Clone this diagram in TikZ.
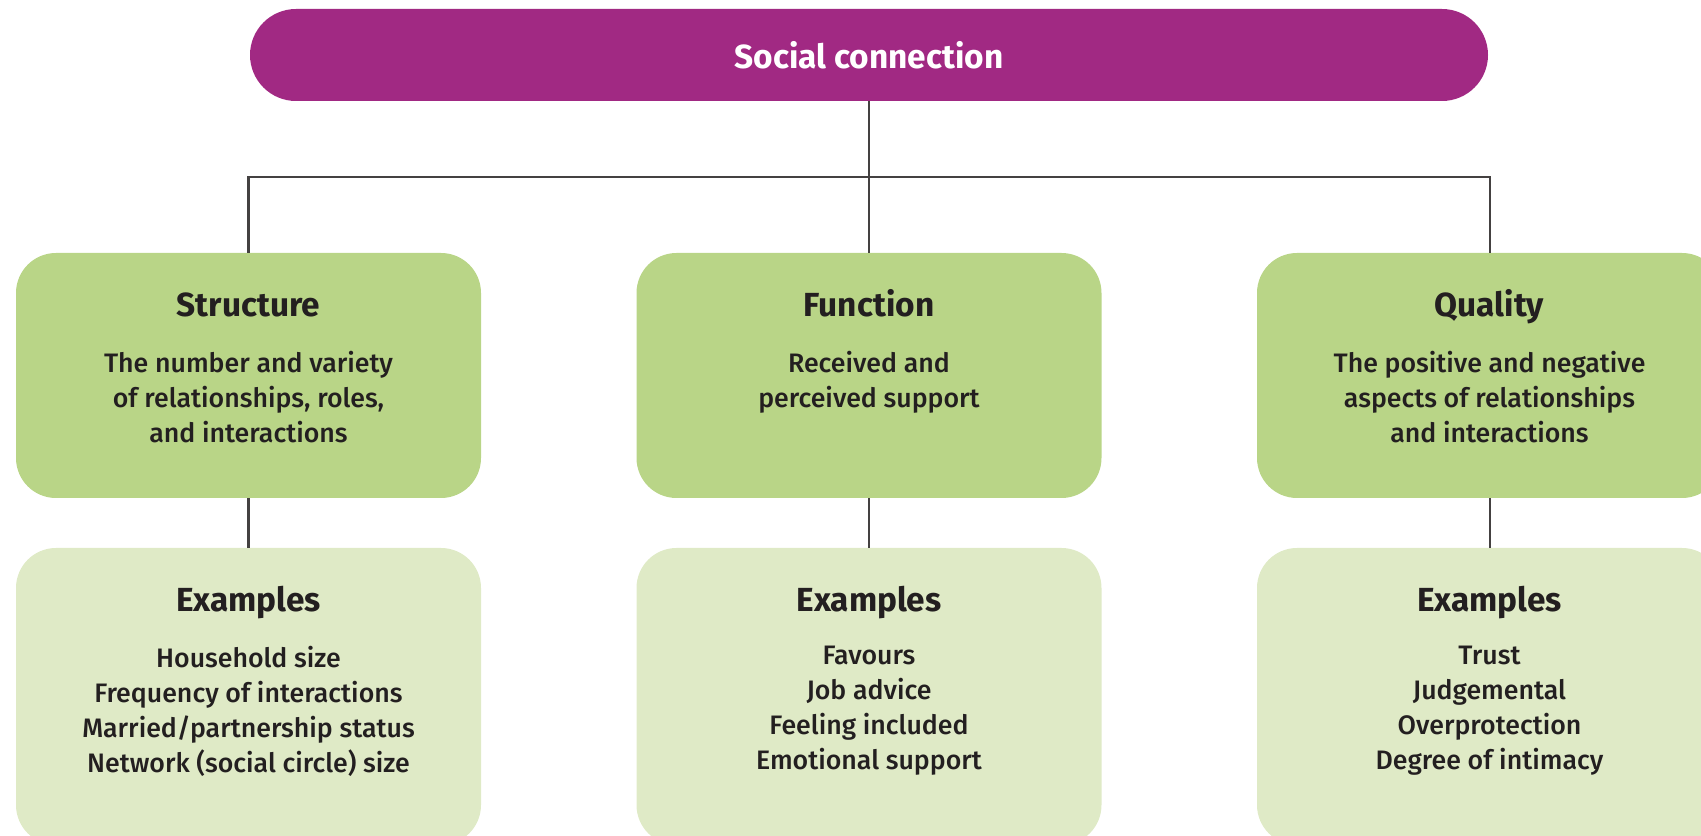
\documentclass[tikz,border=0pt]{standalone}
\usepackage{fontspec}
\setmainfont{Fira Sans}[UprightFont=* Medium, BoldFont=* Bold]
\usepackage{xcolor}
\usepackage{tikz}
\usetikzlibrary{positioning}
\definecolor{plum}{HTML}{A12983}
\definecolor{leafgreen}{HTML}{B9D587}
\definecolor{palegreen}{HTML}{DFEAC6}
\definecolor{inkgray}{HTML}{231F20}
\tikzset{
    topbar/.style={fill=plum, rounded corners=0.92cm, minimum width=24.76cm, minimum height=1.84cm, text=white, font=\fontsize{19}{23}\selectfont\bfseries},
    catbox/.style={fill=leafgreen, rounded corners=0.8cm, minimum width=9.3cm, minimum height=4.9cm},
    exbox/.style={fill=palegreen, rounded corners=0.8cm, minimum width=9.3cm, minimum height=5.94cm},
    boxtitle/.style={anchor=north, inner sep=0pt, text=inkgray, font=\fontsize{19}{23}\selectfont\bfseries, execute at begin node=\strut},
    boxtext/.style={anchor=north, inner sep=0pt, align=center, text=inkgray, font=\fontsize{15.2}{19.9}\selectfont, execute at begin node=\strut},
    link/.style={draw=inkgray!85, line width=1.15pt}}

\begin{document}
\begin{tikzpicture}
                    \useasboundingbox (0,0) rectangle (34.02,-16.72);
                    \clip (0,0) rectangle (34.02,-16.72);

                    \node[topbar] (SC) at (17.38,-1.10) {Social connection};

                    \node[catbox] (S) at (4.97,-7.51) {};
                    \node[catbox] (F) at (17.38,-7.51) {};
                    \node[catbox] (Q) at (29.79,-7.51) {};

                    \node[exbox] (SX) at (4.97,-13.93) {};
                    \node[exbox] (FX) at (17.38,-13.93) {};
                    \node[exbox] (QX) at (29.79,-13.93) {};

                    \coordinate (SL) at (4.97,-3.54);
                    \coordinate (QL) at (29.79,-3.54);

                    \draw[link] (S.north) -- (SL) -- (QL) -- (Q.north);
                    \draw[link] (SC) -- (F);
                    \draw[link] (S) -- (SX);
                    \draw[link] (F) -- (FX);
                    \draw[link] (Q) -- (QX);

                    \node[boxtitle] (St) at ([yshift=-0.70cm]S.north) {Structure};
                    \node[boxtext] (Sd) at ([yshift=-1.97cm]S.north) {The number and variety\\of relationships, roles,\\and interactions};
                    \node[boxtitle] (Ft) at ([yshift=-0.70cm]F.north) {Function};
                    \node[boxtext] (Fd) at ([yshift=-1.97cm]F.north) {Received and\\perceived support};
                    \node[boxtitle] (Qt) at ([yshift=-0.70cm]Q.north) {Quality};
                    \node[boxtext] (Qd) at ([yshift=-1.97cm]Q.north) {The positive and negative\\aspects of relationships\\and interactions};

                    \node[boxtitle] (SXt) at ([yshift=-0.70cm]SX.north) {Examples};
                    \node[boxtext] (SXd) at ([yshift=-1.97cm]SX.north) {Household size\\Frequency of interactions\\Married/partnership status\\Network (social circle) size};
                    \node[boxtitle] (FXt) at ([yshift=-0.70cm]FX.north) {Examples};
                    \node[boxtext] (FXd) at ([yshift=-1.97cm]FX.north) {Favours\\Job advice\\Feeling included\\Emotional support};
                    \node[boxtitle] (QXt) at ([yshift=-0.70cm]QX.north) {Examples};
                    \node[boxtext] (QXd) at ([yshift=-1.97cm]QX.north) {Trust\\Judgemental\\Overprotection\\Degree of intimacy};

                \end{tikzpicture}
\end{document}
